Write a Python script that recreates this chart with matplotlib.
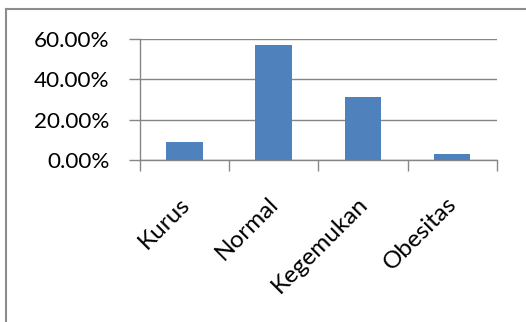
import matplotlib.pyplot as plt
from matplotlib.lines import Line2D
from matplotlib.ticker import FuncFormatter
from matplotlib.transforms import ScaledTranslation

categories = ["Kurus", "Normal", "Kegemukan", "Obesitas"]
values = [0.0875, 0.569, 0.313, 0.028]
y_ticks = [0.0, 0.2, 0.4, 0.6]

plt.rcParams["font.family"] = ["Lato", "DejaVu Sans"]
gray = "#868686"

fig = plt.figure(figsize=(5.26, 3.22), dpi=100)
ax = fig.add_axes([0.2662, 0.5031, 0.6781, 0.3767])

x = range(len(categories))
ax.bar(x, values, width=0.41, color="#4F81BD", zorder=3)

ax.set_xlim(-0.5, len(categories) - 0.5)
ax.set_ylim(0, 0.6)
ax.set_yticks(y_ticks)
ax.yaxis.set_major_formatter(FuncFormatter(lambda v, _: f"{v * 100:.2f}%"))
ax.grid(axis="y", color=gray, linewidth=1.0, zorder=0)

ax.set_xticks(list(x))
ax.set_xticklabels(categories, rotation=45, ha="right", va="top",
                   rotation_mode="anchor")
ax.set_xticks([i - 0.5 for i in range(len(categories) + 1)], minor=True)
ax.tick_params(axis="x", which="major", length=0, pad=24, labelsize=17.5)
ax.tick_params(axis="x", which="minor", length=8, color=gray, width=1.0)
ax.tick_params(axis="y", length=8, color=gray, width=1.0, labelsize=16.2, pad=14)

shift = ScaledTranslation(-6 / 100, 0, fig.dpi_scale_trans)
for lbl in ax.get_xticklabels():
    lbl.set_transform(lbl.get_transform() + shift)

for side in ("top", "right"):
    ax.spines[side].set_visible(False)
for side in ("left", "bottom"):
    ax.spines[side].set_color(gray)
    ax.spines[side].set_linewidth(1.0)

# outer chart border (only top and left edges fall inside the crop)
fig.add_artist(Line2D([6 / 526, 6 / 526], [0, 1 - 9 / 322], color="#8c8c8c", linewidth=1.5))
fig.add_artist(Line2D([6 / 526, 1], [1 - 9 / 322, 1 - 9 / 322], color="#8c8c8c", linewidth=1.5))

fig.savefig("out.png", dpi=100)
